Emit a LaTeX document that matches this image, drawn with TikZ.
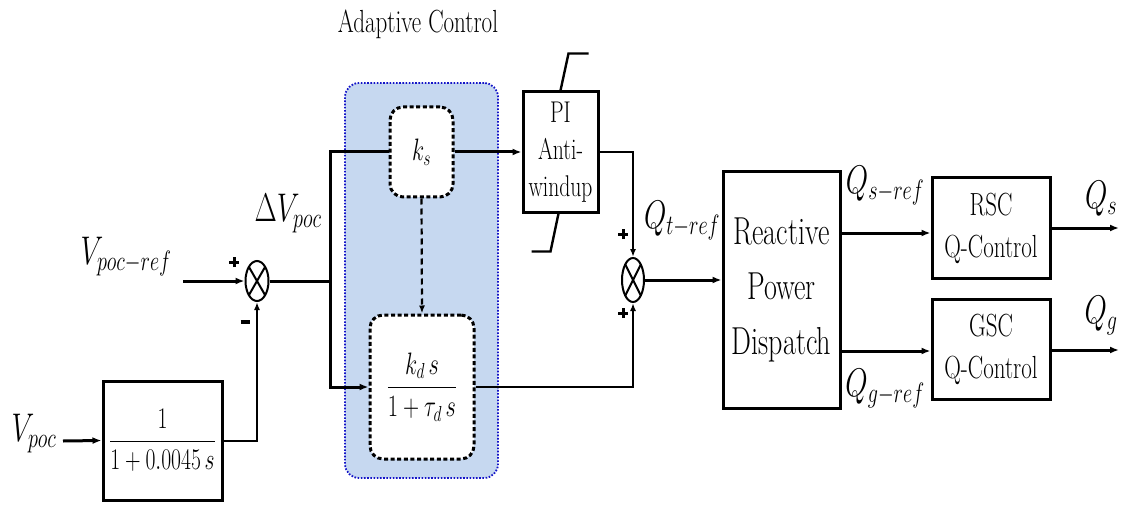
\RequirePackage{fix-cm}
\documentclass[tikz,border=0pt]{standalone}
\usetikzlibrary{arrows.meta,calc,shapes.geometric,backgrounds}
\definecolor{acfill}{RGB}{198,216,240}
\definecolor{acline}{RGB}{20,20,200}
\newcommand{\nt}[1]{\scalebox{0.72}[1]{#1}}
\newcommand{\plusmark}{\rule[3.5pt]{10pt}{3pt}\kern-6.5pt\rule{3pt}{10pt}\kern3.5pt}
\tikzset{
  wire/.style={line width=3pt},
  arr/.style={line width=3pt,-{Latex[length=9pt,width=7pt]}},
  thinarr/.style={line width=2pt,-{Latex[length=8pt,width=6pt]}},
  blk/.style={draw,line width=3pt,inner sep=0pt,fill=white},
  dblk/.style={draw,line width=3pt,dash pattern=on 4pt off 2.6pt,rounded corners=13pt,inner sep=0pt,fill=white},
  sumn/.style={draw,ellipse,line width=2pt,inner sep=0pt},
  mlbl/.style={font=\fontsize{40}{44}\selectfont,inner sep=0pt},
  tlbl/.style={font=\fontsize{39}{55}\selectfont,align=center},
  sgn/.style={inner sep=0pt},
}
\begin{document}
\begin{tikzpicture}[x=1pt,y=-1pt]
\useasboundingbox (0,0) rectangle (1121,505);
% adaptive control background
\node[draw=acline,fill=acfill,line width=1.8pt,dash pattern=on 1.6pt off 1.6pt,rounded corners=14pt,minimum width=153pt,minimum height=395pt] (ac) at (421.5,280.5) {};
\node[font=\fontsize{32}{34}\selectfont,inner sep=0pt] (actitle) at (418,24) {\nt{Adaptive Control}};

% input side
\node[mlbl] (vref) at (126,257) {\nt{$V_{poc-ref}$}};
\coordinate (vrefin) at (183,281);
\node[sumn,minimum width=23pt,minimum height=40pt] (s1) at (257,281) {};
\draw[line width=2pt] ($(s1.center)+(-8.1,-14.1)$) -- ($(s1.center)+(8.1,14.1)$);
\draw[line width=2pt] ($(s1.center)+(8.1,-14.1)$) -- ($(s1.center)+(-8.1,14.1)$);
\node[sgn] (p1) at (234,262) {\plusmark};
\node[sgn] (m1) at (245,322) {\rule{9pt}{3.5pt}};
\node[mlbl] (dv) at (288,214) {\nt{$\Delta V_{poc}$}};

\node[mlbl] (vpoc) at (34,434) {\nt{$V_{poc}$}};
\coordinate (vpocin) at (63,441);
\node[blk,minimum width=119pt,minimum height=119pt,font=\fontsize{30}{34}\selectfont] (g) at (162.5,440.5) {\nt{$\displaystyle\frac{1}{1+0.0045\,s}$}};

\draw[arr] (vrefin) -- (s1.west);
\draw[arr] (vpocin) -- (g.west);
\draw[thinarr] (g.east) -| (s1.south);

% split
\coordinate (j1) at (330,281);
\draw[wire] (s1.east) -- (j1);
\node[dblk,minimum width=63pt,minimum height=90pt,font=\fontsize{31}{34}\selectfont] (ks) at (421.5,152) {\nt{$k_s$}};
\node[dblk,minimum width=104pt,minimum height=144pt,font=\fontsize{31}{34}\selectfont] (kd) at (422,387) {\nt{$\displaystyle\frac{k_d\,s}{1+\tau_d\,s}$}};
\draw[wire] (j1) |- (ks.west);
\draw[arr] (j1) |- (kd.west);
\draw[line width=2.2pt,dash pattern=on 6pt off 4pt,-{Latex[length=8pt,width=6pt]}] (ks.south) -- (kd.north);

% PI
\node[blk,minimum width=75pt,minimum height=120pt,font=\fontsize{30}{37}\selectfont,align=center] (pi) at (560.5,152) {\nt{PI}\\\nt{Anti-}\\\nt{windup}};
\draw[arr] (ks.east) -- (pi.west);
\draw[line width=2.4pt] (pi.north) -- ++(8,-37) -- ++(20,0);
\draw[line width=2.4pt] ([xshift=-2pt]pi.south) -- ++(-8,38) -- ++(-19,0);

% second sum
\node[sgn] (p2) at (623,234) {\plusmark};
\node[sgn] (p3) at (623,313) {\plusmark};
\node[sumn,minimum width=22pt,minimum height=44pt] (s2) at (633,280) {};
\draw[line width=2pt] ($(s2.center)+(-7.8,-15.6)$) -- ($(s2.center)+(7.8,15.6)$);
\draw[line width=2pt] ($(s2.center)+(7.8,-15.6)$) -- ($(s2.center)+(-7.8,15.6)$);
\draw[thinarr] (pi.east) -| (s2.north);
\draw[thinarr] (kd.east) -| (s2.south);
\node[mlbl] (qt) at (682,221) {\nt{$Q_{t-ref}$}};

% dispatch
\node[blk,minimum width=117pt,minimum height=236pt,tlbl] (rpd) at (781.5,290) {\nt{Reactive}\\\nt{Power}\\\nt{Dispatch}};
\draw[arr] (s2.east) -- (s2.east -| rpd.west);

\node[blk,minimum width=118pt,minimum height=100pt,font=\fontsize{32}{42}\selectfont,align=center] (rsc) at (991,228) {\nt{RSC}\\\nt{Q-Control}};
\node[blk,minimum width=118pt,minimum height=100pt,font=\fontsize{32}{42}\selectfont,align=center] (gsc) at (991,349) {\nt{GSC}\\\nt{Q-Control}};
\coordinate (rscin) at ([yshift=-5pt]rsc.west);
\coordinate (gscin) at ([yshift=-2pt]gsc.west);
\draw[arr] (rpd.east |- rscin) -- (rscin);
\draw[arr] (rpd.east |- gscin) -- (gscin);
\node[mlbl] (qsref) at (885,186) {\nt{$Q_{s-ref}$}};
\node[mlbl] (qgref) at (885,389) {\nt{$Q_{g-ref}$}};

\coordinate (qsout) at (1119,228);
\coordinate (qgout) at (1119,350);
\draw[arr] (rsc.east) -- (qsout);
\draw[arr] (gsc.east |- qgout) -- (qgout);
\node[mlbl] (qs) at (1101,199) {\nt{$Q_s$}};
\node[mlbl] (qg) at (1101,316) {\nt{$Q_g$}};
\end{tikzpicture}
\end{document}
